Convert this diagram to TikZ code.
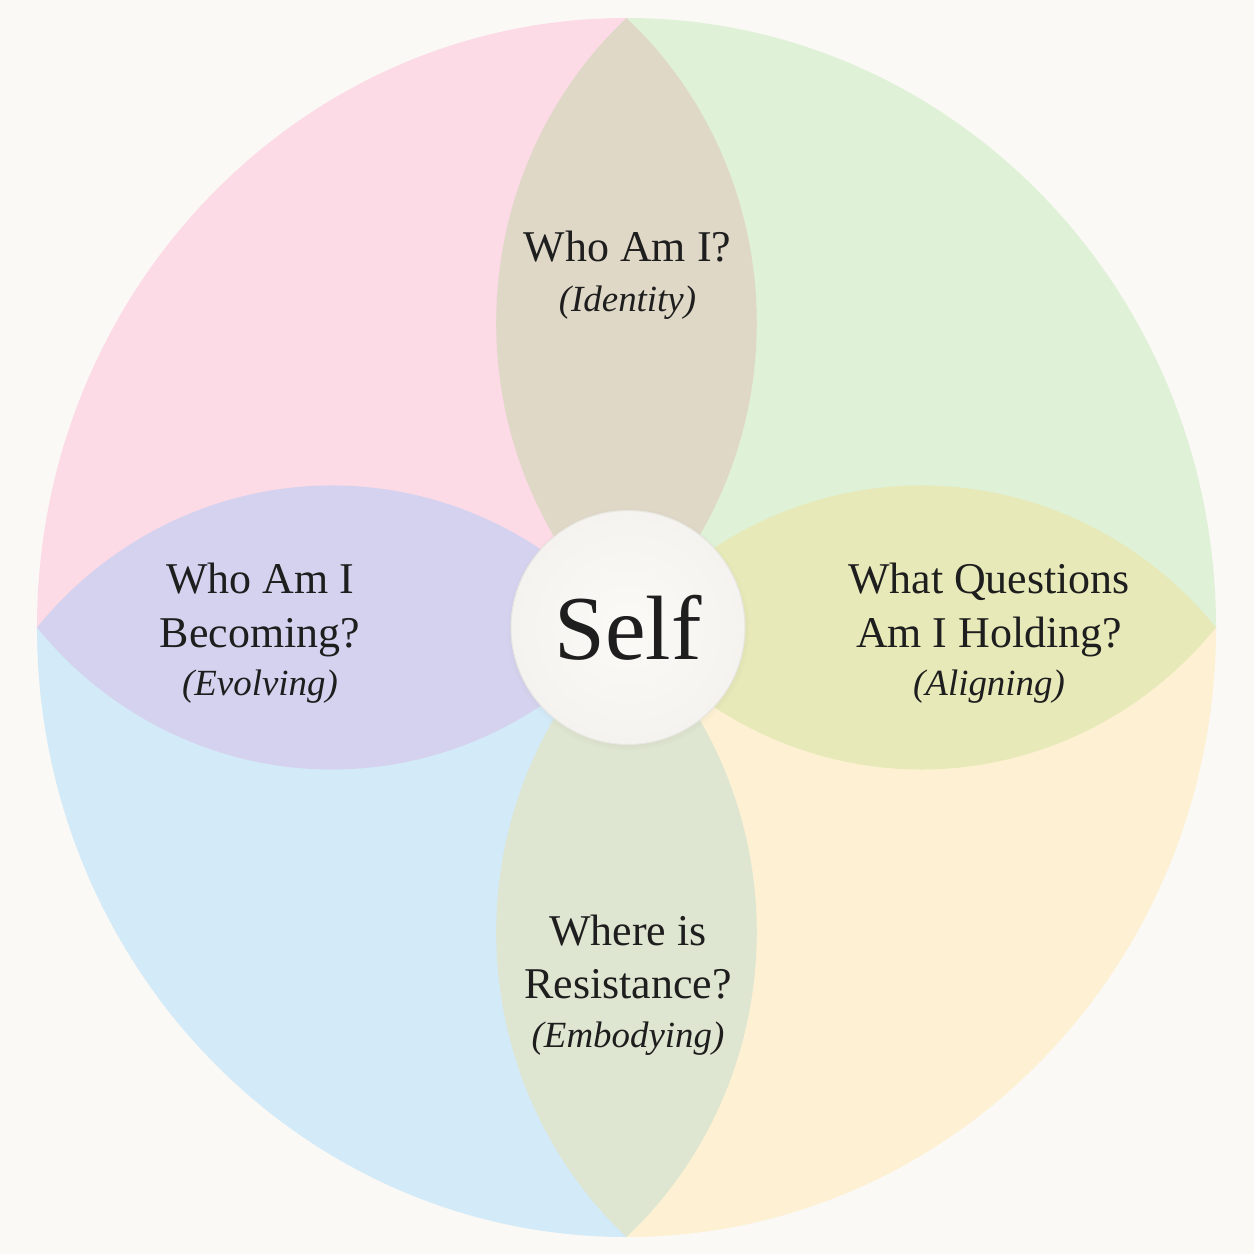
\documentclass[tikz,border=0pt]{standalone}
\usepackage{fontspec}
\setmainfont{Liberation Serif}
\usetikzlibrary{shadows}
\definecolor{paper}{HTML}{FAF9F5}
\definecolor{ink}{HTML}{1E1E1E}
\definecolor{pinkq}{HTML}{FCDAE6}
\definecolor{greenq}{HTML}{DFF1D6}
\definecolor{yellowq}{HTML}{FEF1D3}
\definecolor{blueq}{HTML}{D3EAF8}
\definecolor{identityleaf}{HTML}{DFD8C7}
\definecolor{evolvingleaf}{HTML}{D4D2EE}
\definecolor{aligningleaf}{HTML}{E7E9B8}
\definecolor{embodyingleaf}{HTML}{DEE5D0}
\definecolor{selfin}{HTML}{FBFAF7}
\definecolor{selfout}{HTML}{F4F3EF}
\definecolor{selfrim}{HTML}{E8E6E0}
\begin{document}
\begin{tikzpicture}[x=0.02cm, y=0.02cm,
    question/.style={anchor=base, text=ink, font=\fontsize{25}{30}\selectfont},
    theme/.style={anchor=base, text=ink, font=\fontsize{21}{25}\selectfont\itshape},
    selfdisc/.style={circle, minimum size=4.68cm, inner sep=0pt,
      inner color=selfin, outer color=selfout, draw=selfrim, line width=0.6pt,
      circular drop shadow={shadow xshift=0pt, shadow yshift=-1pt,
        shadow scale=1.04, opacity=0.18},
      text=ink, font=\fontsize{52}{58}\selectfont}]
  \fill[paper] (-626.5,-626.5) rectangle (627.5,627.5);
  % quadrants and leaves, in units of the outer radius
  \begin{scope}[xscale=589.5, yscale=609.5]
    \fill[pinkq] (0,0) -- (0,1) arc[start angle=90, end angle=180, radius=1] -- cycle;
    \fill[blueq] (0,0) -- (-1,0) arc[start angle=180, end angle=270, radius=1] -- cycle;
    \fill[yellowq] (0,0) -- (0,-1) arc[start angle=270, end angle=360, radius=1] -- cycle;
    \fill[greenq] (0,0) -- (1,0) arc[start angle=0, end angle=90, radius=1] -- cycle;
    \fill[identityleaf] (0,0) arc[start angle=-47.69, end angle=47.69, radius=0.6761]
      arc[start angle=132.31, end angle=227.69, radius=0.6761] -- cycle;
    \fill[embodyingleaf, rotate=180] (0,0) arc[start angle=-47.69, end angle=47.69, radius=0.6761]
      arc[start angle=132.31, end angle=227.69, radius=0.6761] -- cycle;
    \fill[evolvingleaf, rotate=90] (0,0) arc[start angle=-49.97, end angle=49.97, radius=0.6530]
      arc[start angle=130.03, end angle=229.97, radius=0.6530] -- cycle;
    \fill[aligningleaf, rotate=-90] (0,0) arc[start angle=-49.97, end angle=49.97, radius=0.6530]
      arc[start angle=130.03, end angle=229.97, radius=0.6530] -- cycle;
  \end{scope}
  \node[selfdisc] (self) at (1.5,0) {Self};
  % top
  \node[question] (whoami) at (1,365.5) {Who Am I?};
  \node[theme] (identity) at (1,315.5) {(Identity)};
  % left
  \node[question] (becomingA) at (-366.5,34.5) {Who Am I};
  \node[question] (becomingB) at (-366.5,-19.5) {Becoming?};
  \node[theme] (evolving) at (-366.5,-67.5) {(Evolving)};
  % right
  \node[question] (holdingA) at (362.5,34.5) {What Questions};
  \node[question] (holdingB) at (362.5,-19.5) {Am I Holding?};
  \node[theme] (aligning) at (362.5,-67.5) {(Aligning)};
  % bottom
  \node[question] (resistA) at (1.5,-317.5) {Where is};
  \node[question] (resistB) at (1.5,-370.5) {Resistance?};
  \node[theme] (embodying) at (1.5,-419.5) {(Embodying)};
\end{tikzpicture}
\end{document}
